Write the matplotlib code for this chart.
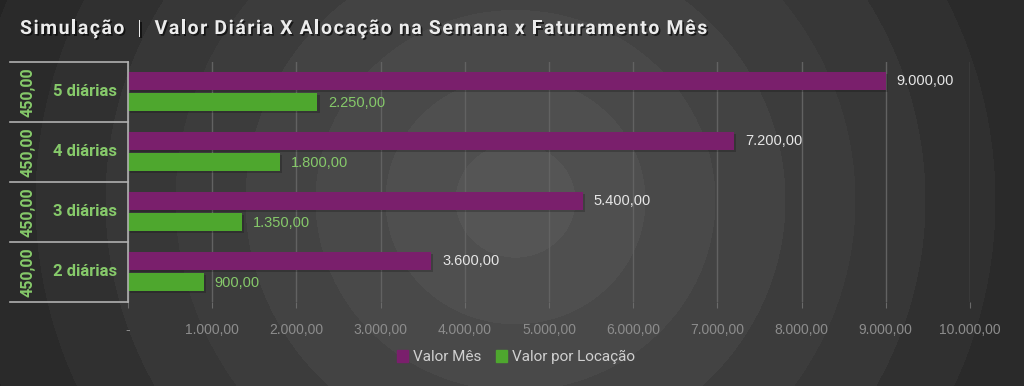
import matplotlib.pyplot as plt
import matplotlib.patheffects as pe
import numpy as np

# dados
categorias = ['2 diárias', '3 diárias', '4 diárias', '5 diárias']
valor_diaria = [450, 450, 450, 450]
valor_mes = [3600, 5400, 7200, 9000]
valor_locacao = [900, 1350, 1800, 2250]
ticks_x = [0, 1000, 2000, 3000, 4000, 5000, 6000, 7000, 8000, 9000, 10000]
titulo = 'Simulação  |  Valor Diária X Alocação na Semana x Faturamento Mês'

roxo = '#7a1f6c'
verde = '#4ea72e'
verde_txt = '#86c96a'
sombra = [pe.SimplePatchShadow(offset=(1.5, -1.5), shadow_rgbFace='black', alpha=0.2), pe.Normal()]


def br(v):
    if v == 0:
        return '-'
    s = f'{v:,.2f}'
    return s.replace(',', '#').replace('.', ',').replace('#', '.')


fig = plt.figure(figsize=(10.24, 3.86), dpi=100)

# fundo com anéis concêntricos
bg = fig.add_axes([0, 0, 1, 1], zorder=-10)
yy, xx = np.mgrid[0:386, 0:1024]
r = np.hypot(xx - 515, (yy - 200) * 1.05)
banda = np.floor((r + 10) / 70)
cinza = np.clip(0.335 - banda * 0.024, 0.135, 1)
bg.imshow(cinza, cmap='gray', vmin=0, vmax=1, aspect='auto', interpolation='bilinear')
bg.axis('off')

ax = fig.add_axes([128 / 1024, 1 - 302 / 386, 842 / 1024, 240 / 386])
ax.patch.set_alpha(0)

y = np.arange(len(categorias))
h = 0.3
b1 = ax.barh(y + 0.18, valor_mes, height=h, color=roxo, zorder=3)
b2 = ax.barh(y - 0.17, valor_locacao, height=h, color=verde, zorder=3)
for b in list(b1) + list(b2):
    b.set_path_effects(sombra)

for yi, v in zip(y, valor_mes):
    ax.text(v + 130, yi + 0.18, br(v), color='#e6e6e6', fontsize=10.5,
            va='center', ha='left', family='Liberation Sans')
for yi, v in zip(y, valor_locacao):
    ax.text(v + 130, yi - 0.19, br(v), color=verde_txt, fontsize=10.5,
            va='center', ha='left', family='Liberation Sans')

ax.set_xlim(0, 10000)
ax.set_ylim(-0.5, len(categorias) - 0.5)
ax.set_xticks(ticks_x)
ax.set_xticklabels([br(t) for t in ticks_x], color='#8c8c8c', fontsize=10,
                   family='Liberation Sans')
ax.tick_params(axis='x', length=4, color='#6a6a6a', pad=11)
ax.set_yticks([])
ax.grid(axis='x', color='#626262', linewidth=1, zorder=0)
for s in ['top', 'right', 'bottom', 'left']:
    ax.spines[s].set_visible(False)

# tabela de rótulos à esquerda
for k in range(len(categorias) + 1):
    yp = k - 0.5
    ax.plot([-118 / 842 * 10000, 0], [yp, yp], color='#b0b0b0', lw=1.2,
            clip_on=False, zorder=4)
ax.plot([0, 0], [-0.5, len(categorias) - 0.5], color='#b0b0b0', lw=1.2,
        clip_on=False, zorder=4)
for yi, cat, d in zip(y, categorias, valor_diaria):
    ax.text(-43 / 842 * 10000, yi, cat, color=verde_txt, fontsize=12,
            fontweight='bold', ha='center', va='center', family='Roboto')
    ax.text(-100 / 842 * 10000, yi, br(d), color=verde_txt, fontsize=11.5,
            fontweight='bold', ha='center', va='center', rotation=90,
            family='Roboto')

# título com espaçamento entre letras
rend = fig.canvas.get_renderer()
x0 = 20
for ch in titulo:
    t = fig.text(x0 / 1024, 1 - 29 / 386, ch, color='#ececec', fontsize=14,
                 fontweight='bold', va='center', ha='left', family='Roboto',
                 path_effects=[pe.SimplePatchShadow(offset=(1.2, -1.2), shadow_rgbFace='black', alpha=0.6), pe.Normal()])
    w = t.get_window_extent(rend).width
    if ch == ' ':
        w = 4
    x0 += w + 1.55

# legenda
hs = [plt.Rectangle((0, 0), 1, 1, color=roxo), plt.Rectangle((0, 0), 1, 1, color=verde)]
leg = fig.legend(hs, ['Valor Mês', 'Valor por Locação'], loc='center',
                 bbox_to_anchor=(516 / 1024, 1 - 357 / 386), ncol=2, frameon=False,
                 handlelength=0.7, handleheight=0.9, handletextpad=0.3,
                 columnspacing=1.0, prop={'family': 'Roboto', 'size': 11})
for t in leg.get_texts():
    t.set_color('#d0d0d0')

fig.savefig('out.png', dpi=100)
